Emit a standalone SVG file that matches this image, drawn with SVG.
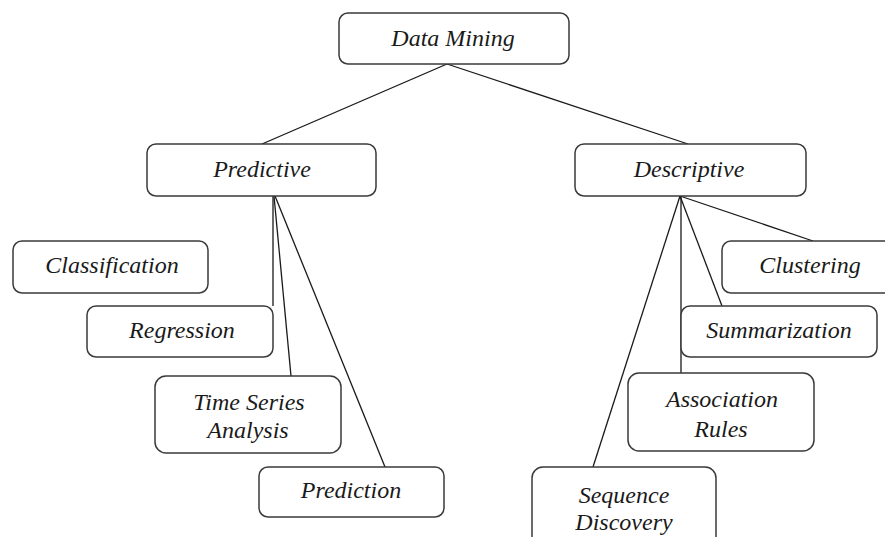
<svg xmlns="http://www.w3.org/2000/svg" width="885" height="537" viewBox="0 0 885 537">
<style>
.box{fill:#fff;stroke:#3a3a3a;stroke-width:1.5}
.lbl{font-family:"Liberation Serif","Times New Roman",serif;font-style:italic;font-size:24px;fill:#1a1a1a;text-anchor:middle}
.edge{stroke:#1a1a1a;stroke-width:1.3;fill:none}
</style>
<rect width="885" height="537" fill="#fff"/>
<g id="connectors">
<line class="edge" x1="447" y1="64" x2="262" y2="144"/>
<line class="edge" x1="447" y1="64" x2="688" y2="144"/>
<line class="edge" x1="273" y1="196" x2="273" y2="306"/>
<line class="edge" x1="274" y1="196" x2="291" y2="376"/>
<line class="edge" x1="275" y1="196" x2="385" y2="467"/>
<line class="edge" x1="680" y1="196" x2="813" y2="241"/>
<line class="edge" x1="680" y1="196" x2="722" y2="306"/>
<line class="edge" x1="681" y1="196" x2="681" y2="373"/>
<line class="edge" x1="680" y1="196" x2="593" y2="467"/>
</g>
<g id="data-mining"><rect class="box" x="339" y="13" width="230" height="51" rx="9"/><text class="lbl" x="453" y="46">Data Mining</text></g>
<g id="predictive"><rect class="box" x="147" y="144" width="229" height="52" rx="9"/><text class="lbl" x="262" y="177">Predictive</text></g>
<g id="descriptive"><rect class="box" x="575" y="144" width="231" height="52" rx="9"/><text class="lbl" x="689" y="177">Descriptive</text></g>
<g id="classification"><rect class="box" x="13" y="241" width="195" height="52" rx="9"/><text class="lbl" x="112" y="273">Classification</text></g>
<g id="regression"><rect class="box" x="87" y="306" width="186" height="51" rx="9"/><text class="lbl" x="182" y="338">Regression</text></g>
<g id="time-series"><rect class="box" x="155" y="376" width="186" height="77" rx="11"/><text class="lbl" x="249" y="410">Time Series</text><text class="lbl" x="248" y="438">Analysis</text></g>
<g id="prediction"><rect class="box" x="259" y="467" width="185" height="50" rx="9"/><text class="lbl" x="351" y="498">Prediction</text></g>
<g id="clustering"><rect class="box" x="722" y="241" width="175" height="52" rx="9"/><text class="lbl" x="810" y="273">Clustering</text></g>
<g id="summarization"><rect class="box" x="681" y="306" width="196" height="51" rx="9"/><text class="lbl" x="779" y="338">Summarization</text></g>
<g id="association-rules"><rect class="box" x="628" y="373" width="186" height="78" rx="11"/><text class="lbl" x="722" y="407">Association</text><text class="lbl" x="721" y="437">Rules</text></g>
<g id="sequence-discovery"><rect class="box" x="532" y="467" width="184" height="80" rx="11"/><text class="lbl" x="624" y="503">Sequence</text><text class="lbl" x="624" y="530">Discovery</text></g>
</svg>
